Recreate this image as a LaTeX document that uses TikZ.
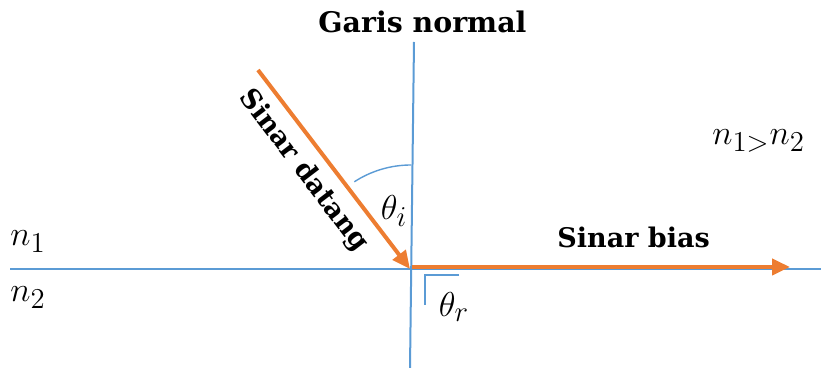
\documentclass[tikz,border=0pt]{standalone}
\usepackage{fontspec}
\newfontfamily\lblfont{DejaVu Serif}
\usetikzlibrary{arrows.meta}
\definecolor{bluln}{RGB}{91,155,213}
\definecolor{orng}{RGB}{237,125,49}
\tikzset{
  bnd/.style ={draw=bluln, line width=1pt},
  ang/.style ={draw=bluln, line width=0.7pt},
  ray/.style ={draw=orng, line width=2pt, -{Triangle[length=9pt,width=8pt]}},
  ttl/.style ={font=\lblfont\bfseries\fontsize{13.5}{16}\selectfont, inner sep=0pt},
  mth/.style ={font=\fontsize{19}{22}\selectfont, inner sep=0pt},
}

\begin{document}
\begin{tikzpicture}[x=0.5pt, y=-0.5pt]
  \useasboundingbox (0,0) rectangle (821,368);
  % batas medium dan garis normal
  \coordinate (O) at (410,269);
  \coordinate (hL) at (10,269);
  \coordinate (hR) at (821,269);
  \coordinate (vT) at (414,42);
  \coordinate (vB) at (410,368);
  \draw[bnd] (hL) -- (hR);
  \draw[bnd] (vT) -- (vB);
  % sudut
  \coordinate (a0) at (411,165);
  \draw[ang] (a0) arc[start angle=-90, end angle=-123, radius=104];
  \coordinate (r0) at (425,275);
  \coordinate (r1) at (459,275);
  \coordinate (r2) at (425,305);
  \draw[ang] (r1) -- (r0) -- (r2);
  % sinar
  \coordinate (src) at (258,70);
  \coordinate (O2) at (412,267);
  \coordinate (tip) at (790,267);
  \draw[ray] (src) -- node[ttl, sloped, below=5pt, pos=0.43] (datang) {Sinar datang} (O);
  \draw[ray] (O2) -- (tip);
  % label
  \node[ttl, anchor=base west, font=\lblfont\bfseries\fontsize{14.2}{16}\selectfont] (normal) at (318,33) {Garis normal};
  \node[ttl, anchor=base west] (bias) at (557,248) {Sinar bias};
  \node[mth, anchor=base west] (n1) at (10,246) {$n_1$};
  \node[mth, anchor=base west] (n2) at (10,302) {$n_2$};
  \node[mth, anchor=base west] (nn) at (712,145) {$n_{1>}n_2$};
  \node[mth] (thi) at (394,211) {$\theta_i$};
  \node[mth] (thr) at (454,307) {$\theta_r$};
\end{tikzpicture}
\end{document}
